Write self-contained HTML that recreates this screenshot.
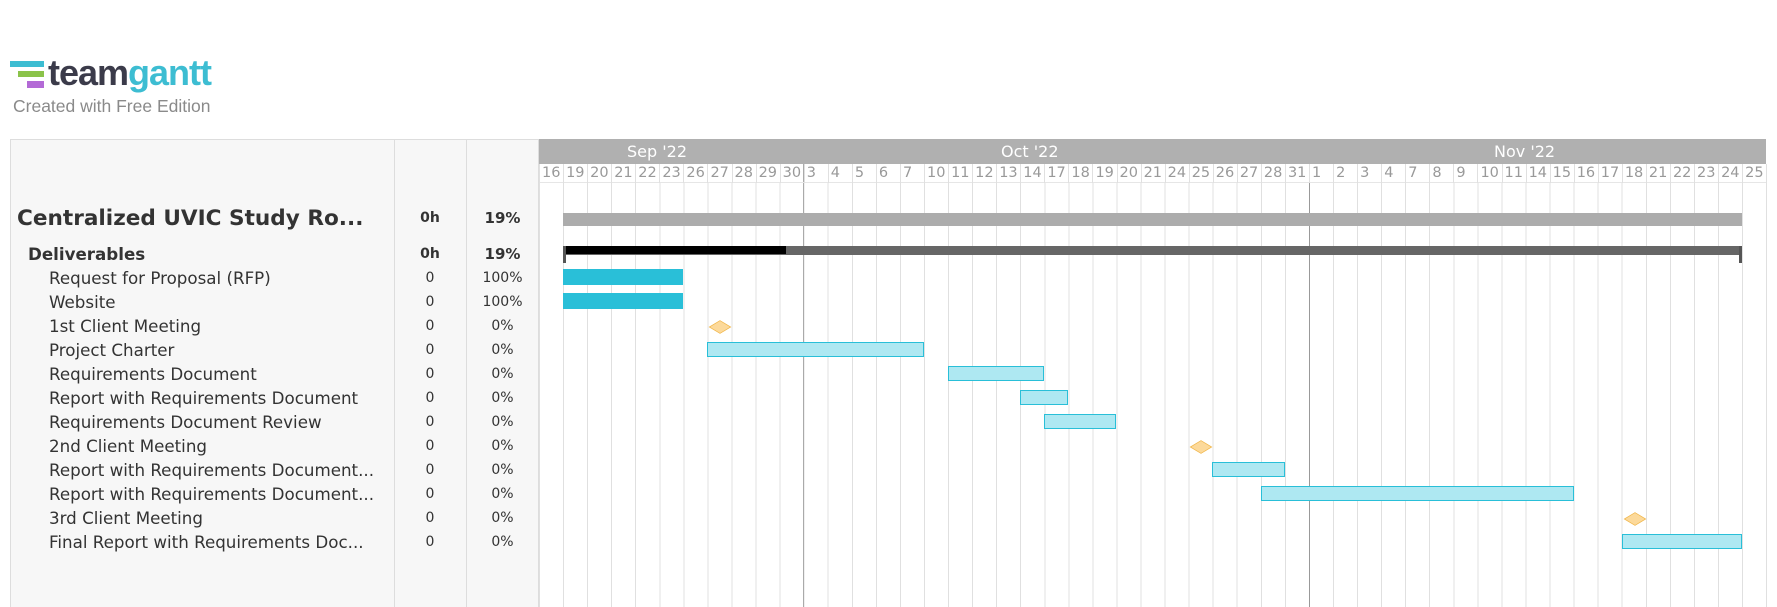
<!DOCTYPE html>
<html><head><meta charset="utf-8"><style>
html,body{margin:0;width:1777px;height:607px;overflow:hidden;}
body{background:#fff;position:relative;font-family:"DejaVu Sans","Liberation Sans",sans-serif;}
.a{position:absolute;}
.t{position:absolute;left:49px;font-size:16.7px;color:#333;line-height:24px;white-space:nowrap;}
.h{position:absolute;left:394px;width:72px;text-align:center;font-size:14px;color:#333;line-height:24px;}
.p{position:absolute;left:466px;width:73px;text-align:center;font-size:14px;color:#333;line-height:24px;}
.bar{position:absolute;height:15px;background:#aee8f2;border:1px solid #29bfd8;box-sizing:border-box;}
.dia{position:absolute;width:14px;height:14px;background:#fcd99a;border:1px solid #f0b64a;transform:scaleY(0.6) rotate(45deg);}
#days{position:absolute;left:539px;top:164px;width:1227px;height:19px;display:flex;}
#days span{flex:1;font-size:14.5px;color:#999;padding-left:2px;line-height:19px;border-left:1px solid #e0e0e0;box-sizing:border-box;overflow:hidden}
</style></head><body>
<!-- logo -->
<div class="a" style="left:10px;top:61px;width:34px;height:6px;background:#3dbdd2"></div>
<div class="a" style="left:18px;top:71px;width:26px;height:6px;background:#8bc34a"></div>
<div class="a" style="left:27px;top:81px;width:17px;height:7px;background:#b36ad6"></div>
<div class="a" style="left:48px;top:53px;font-family:'Liberation Sans',sans-serif;font-weight:bold;font-size:36px;letter-spacing:-1px;line-height:40px"><span style="color:#3b3b4a">team</span><span style="color:#3dbdd2">gantt</span></div>
<div class="a" style="left:13px;top:96px;font-family:'Liberation Sans',sans-serif;font-size:17.5px;color:#8a8a8a">Created with Free Edition</div>
<!-- left panel -->
<div class="a" style="left:10px;top:139px;width:529px;height:468px;background:#f7f7f7;border:1px solid #ddd;border-bottom:none;box-sizing:border-box"></div>
<div class="a" style="left:394px;top:139px;width:1px;height:468px;background:#ddd"></div>
<div class="a" style="left:466px;top:139px;width:1px;height:468px;background:#ddd"></div>
<div class="a" style="left:538px;top:139px;width:1px;height:468px;background:#ddd"></div>
<div class="a" style="left:17px;top:207px;font-size:21.6px;font-weight:bold;color:#333;line-height:24px">Centralized UVIC Study Ro...</div>
<div class="h" style="top:206px;font-weight:bold">0h</div><div class="p" style="top:206px;font-weight:bold;font-size:15px">19%</div>
<div class="a" style="left:28px;top:242px;font-size:16.7px;font-weight:bold;color:#333;line-height:24px">Deliverables</div>
<div class="h" style="top:242px;font-weight:bold">0h</div><div class="p" style="top:242px;font-weight:bold;font-size:15px">19%</div>
<div class="t" style="top:266px">Request for Proposal (RFP)</div><div class="h" style="top:266px">0</div><div class="p" style="top:266px">100%</div>
<div class="t" style="top:290px">Website</div><div class="h" style="top:290px">0</div><div class="p" style="top:290px">100%</div>
<div class="t" style="top:314px">1st Client Meeting</div><div class="h" style="top:314px">0</div><div class="p" style="top:314px">0%</div>
<div class="t" style="top:338px">Project Charter</div><div class="h" style="top:338px">0</div><div class="p" style="top:338px">0%</div>
<div class="t" style="top:362px">Requirements Document</div><div class="h" style="top:362px">0</div><div class="p" style="top:362px">0%</div>
<div class="t" style="top:386px">Report with Requirements Document</div><div class="h" style="top:386px">0</div><div class="p" style="top:386px">0%</div>
<div class="t" style="top:410px">Requirements Document Review</div><div class="h" style="top:410px">0</div><div class="p" style="top:410px">0%</div>
<div class="t" style="top:434px">2nd Client Meeting</div><div class="h" style="top:434px">0</div><div class="p" style="top:434px">0%</div>
<div class="t" style="top:458px">Report with Requirements Document...</div><div class="h" style="top:458px">0</div><div class="p" style="top:458px">0%</div>
<div class="t" style="top:482px">Report with Requirements Document...</div><div class="h" style="top:482px">0</div><div class="p" style="top:482px">0%</div>
<div class="t" style="top:506px">3rd Client Meeting</div><div class="h" style="top:506px">0</div><div class="p" style="top:506px">0%</div>
<div class="t" style="top:530px">Final Report with Requirements Doc...</div><div class="h" style="top:530px">0</div><div class="p" style="top:530px">0%</div>
<!-- chart grid -->
<div class="a" style="left:539px;top:183px;width:1227px;height:424px;background:repeating-linear-gradient(to right,#e0e0e0 0,#e0e0e0 1px,transparent 1px,transparent 24.06px)"></div>
<div class="a" style="left:1766px;top:164px;width:1px;height:443px;background:#e0e0e0"></div>
<div class="a" style="left:803px;top:164px;width:1px;height:443px;background:#aaa"></div>
<div class="a" style="left:1309px;top:164px;width:1px;height:443px;background:#999"></div>
<!-- month bar -->
<div class="a" style="left:539px;top:139px;width:1227px;height:25px;background:#b0b0b0"></div>
<div class="a" style="left:627px;top:139px;font-size:16px;color:#fff;line-height:25px">Sep '22</div>
<div class="a" style="left:1001px;top:139px;font-size:16px;color:#fff;line-height:25px">Oct '22</div>
<div class="a" style="left:1494px;top:139px;font-size:16px;color:#fff;line-height:25px">Nov '22</div>
<div class="a" style="left:539px;top:182px;width:1227px;height:1px;background:#e6e6e6"></div>
<div id="days"><span>16</span><span>19</span><span>20</span><span>21</span><span>22</span><span>23</span><span>26</span><span>27</span><span>28</span><span>29</span><span>30</span><span>3</span><span>4</span><span>5</span><span>6</span><span>7</span><span>10</span><span>11</span><span>12</span><span>13</span><span>14</span><span>17</span><span>18</span><span>19</span><span>20</span><span>21</span><span>24</span><span>25</span><span>26</span><span>27</span><span>28</span><span>31</span><span>1</span><span>2</span><span>3</span><span>4</span><span>7</span><span>8</span><span>9</span><span>10</span><span>11</span><span>14</span><span>15</span><span>16</span><span>17</span><span>18</span><span>21</span><span>22</span><span>23</span><span>24</span><span>25</span></div>
<!-- bars -->
<div class="a" style="left:563px;top:213px;width:1179px;height:13px;background:#acacac"></div>
<div class="a" style="left:563px;top:246px;width:1179px;height:9px;background:#666"></div>
<div class="a" style="left:564px;top:246px;width:222px;height:8px;background:#000"></div>
<div class="a" style="left:563px;top:246px;width:3px;height:17px;background:#555"></div>
<div class="a" style="left:1739px;top:246px;width:3px;height:17px;background:#555"></div>
<div class="a" style="left:563px;top:269px;width:120px;height:16px;background:#29bfd8"></div>
<div class="a" style="left:563px;top:293px;width:120px;height:16px;background:#29bfd8"></div>
<div class="dia" style="left:712px;top:319px"></div>
<div class="bar" style="left:707px;top:342px;width:217px"></div>
<div class="bar" style="left:948px;top:366px;width:96px"></div>
<div class="bar" style="left:1020px;top:390px;width:48px"></div>
<div class="bar" style="left:1044px;top:414px;width:72px"></div>
<div class="dia" style="left:1193px;top:439px"></div>
<div class="bar" style="left:1212px;top:462px;width:73px"></div>
<div class="bar" style="left:1261px;top:486px;width:313px"></div>
<div class="dia" style="left:1627px;top:511px"></div>
<div class="bar" style="left:1622px;top:534px;width:120px"></div>
</body></html>
